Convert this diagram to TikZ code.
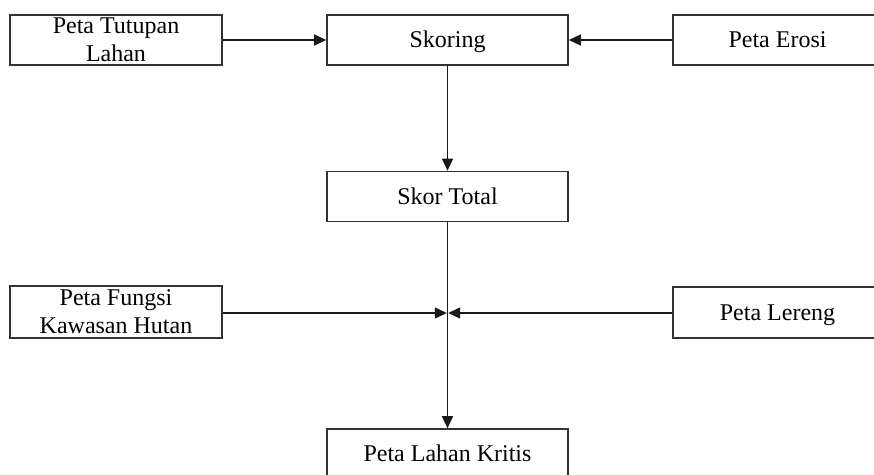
\documentclass[tikz,border=0pt]{standalone}
\usepackage{fontspec}
\setmainfont{Liberation Serif}
\usetikzlibrary{arrows.meta}
\tikzset{
  box/.style={draw=black!80, line width=1.6pt, fill=white, inner sep=0pt, minimum height=50pt, align=center, font=\fontsize{24}{28}\selectfont},
  oneline/.style={text height=18pt, text depth=3pt},
  conn/.style={draw=black!90, line width=1.3pt, -{Triangle[length=12pt,width=11pt]}},
  plain/.style={draw=black!90, line width=1.3pt}
}
\begin{document}
\begin{tikzpicture}[x=1pt, y=-1pt]
\useasboundingbox (0,0) rectangle (874,474);
\clip (0,0) rectangle (874,474);
\node[box, minimum width=212pt] (tutupan) at (116,40) {Peta Tutupan\\Lahan};
\node[box, oneline, minimum width=241pt] (skoring) at (447.5,40) {Skoring};
\node[box, oneline, minimum width=209pt] (erosi) at (777.5,40) {Peta Erosi};
\node[box, oneline, minimum width=241pt, minimum height=50pt] (total) at (447.5,196.5) {Skor Total};
\node[box, minimum width=212pt, minimum height=52pt] (fungsi) at (116,312) {Peta Fungsi\\Kawasan Hutan};
\node[box, oneline, minimum width=209pt, minimum height=51pt] (lereng) at (777.5,312.5) {Peta Lereng};
\node[box, oneline, minimum width=241pt] (kritis) at (447.5,454) {Peta Lahan Kritis};
\coordinate (j) at (447.5,313);
\draw[conn] (tutupan.east) -- (skoring.west);
\draw[conn] (erosi.west) -- (skoring.east);
\draw[conn] (skoring.south) -- (total.north);
\draw[plain] (total.south) -- (j);
\draw[conn] (j) -- (kritis.north);
\draw[conn] (fungsi.east |- j) -- ([xshift=-0.7pt]j);
\draw[conn] (lereng.west |- j) -- ([xshift=0.7pt]j);
\end{tikzpicture}
\end{document}
